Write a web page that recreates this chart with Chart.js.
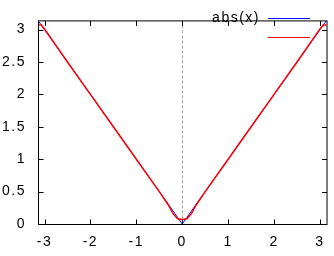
<!DOCTYPE html>
<html>
<head>
<meta charset="utf-8">
<script src="https://cdn.jsdelivr.net/npm/chart.js@4"></script>
<style>
  html, body { margin: 0; padding: 0; background: #fff; }
  canvas { display: block; }
</style>
</head>
<body>
<canvas id="myChart" width="334" height="256"></canvas>
<script>
// values
const xValues = [-3.1416, -3.07, -3.0, -2.5, -2.0, -1.5, -1.0, -0.5, -0.3, -0.2, -0.1, 0, 0.1, 0.2, 0.3, 0.5, 1.0, 1.5, 2.0, 2.5, 3.0, 3.07, 3.1416];
const absValues = [3.14, 3.07, 3.0, 2.5, 2.0, 1.5, 1.0, 0.5, 0.3, 0.2, 0.1, 0.0, 0.1, 0.2, 0.3, 0.5, 1.0, 1.5, 2.0, 2.5, 3.0, 3.07, 3.14];
const approxValues = [3.07, 3.07, 3.01, 2.5, 2.0, 1.5, 1.0, 0.5, 0.29, 0.16, 0.08, 0.07, 0.08, 0.16, 0.29, 0.5, 1.0, 1.5, 2.0, 2.5, 3.01, 3.07, 3.07];
const seriesLabels = ['abs(x)', ''];
const seriesColors = ['#0000ff', '#ff0000'];
const xTicks = [-3, -2, -1, 0, 1, 2, 3];
const yTicks = [0, 0.5, 1, 1.5, 2, 2.5, 3];

const FONT = { family: '"Liberation Sans", Arial, sans-serif', size: 14 };

const toPoints = ys => xValues.map((x, i) => ({ x: x, y: ys[i] }));

// gnuplot-ish frame, inward ticks, zero axis and key
const gnuplotFrame = {
    id: 'gnuplotFrame',
    beforeDraw(chart) {
        chart.ctx.letterSpacing = '1.5px';
    },
    beforeDatasetsDraw(chart) {
        const ctx = chart.ctx;
        const a = chart.chartArea;
        const x0 = Math.round(chart.scales.x.getPixelForValue(0)) + 0.5;
        ctx.save();
        ctx.strokeStyle = '#a0a0a0';
        ctx.lineWidth = 1;
        ctx.setLineDash([3, 2]);
        ctx.beginPath();
        ctx.moveTo(x0, a.top);
        ctx.lineTo(x0, a.bottom);
        ctx.stroke();
        ctx.restore();
    },
    afterDatasetsDraw(chart) {
        const ctx = chart.ctx;
        const a = chart.chartArea;
        const L = a.left + 0.5, R = a.right + 0.5, T = a.top + 0.5, B = a.bottom + 0.5;
        ctx.save();
        ctx.strokeStyle = '#000';
        ctx.lineWidth = 1;
        ctx.beginPath();
        xTicks.forEach(v => {
            const px = Math.round(chart.scales.x.getPixelForValue(v)) + 0.5;
            ctx.moveTo(px, B); ctx.lineTo(px, B - 5);
            ctx.moveTo(px, T); ctx.lineTo(px, T + 5);
        });
        yTicks.forEach(v => {
            const py = Math.round(chart.scales.y.getPixelForValue(v)) + 0.5;
            ctx.moveTo(L, py); ctx.lineTo(L + 5, py);
            ctx.moveTo(R, py); ctx.lineTo(R - 5, py);
        });
        ctx.stroke();
        ctx.strokeRect(L, T, R - L, B - T);

        // key
        ctx.font = FONT.size + 'px ' + FONT.family;
        ctx.textAlign = 'right';
        ctx.textBaseline = 'middle';
        ctx.fillStyle = '#000';
        seriesLabels.forEach((label, i) => {
            const y = 18.5 + i * 19;
            if (label) ctx.fillText(label, 260, y);
            ctx.strokeStyle = seriesColors[i];
            ctx.beginPath();
            ctx.moveTo(268, y);
            ctx.lineTo(310, y);
            ctx.stroke();
        });
        ctx.restore();
    }
};

new Chart(document.getElementById('myChart').getContext('2d'), {
    type: 'scatter',
    data: {
        datasets: [{
            label: seriesLabels[0],
            data: toPoints(absValues),
            showLine: true,
            borderColor: seriesColors[0],
            borderWidth: 1,
            pointRadius: 0,
            tension: 0,
            order: 1
        }, {
            label: seriesLabels[1],
            data: toPoints(approxValues),
            showLine: true,
            borderColor: seriesColors[1],
            borderWidth: 1.5,
            pointRadius: 0,
            tension: 0,
            order: 0
        }]
    },
    options: {
        responsive: false,
        animation: false,
        devicePixelRatio: 1,
        layout: { padding: { top: 6, right: 4, left: 0, bottom: 0 } },
        plugins: { legend: { display: false }, tooltip: { enabled: false } },
        scales: {
            x: {
                type: 'linear',
                min: -Math.PI,
                max: Math.PI,
                grid: { display: false, drawTicks: false },
                border: { display: false },
                afterBuildTicks: s => { s.ticks = xTicks.map(v => ({ value: v })); },
                afterFit: s => { s.height = 32; },
                ticks: { color: '#000', font: FONT, padding: 10, maxRotation: 0, autoSkip: false, callback: v => String(v) }
            },
            y: {
                type: 'linear',
                min: 0,
                max: Math.PI,
                grid: { display: false, drawTicks: false },
                border: { display: false },
                afterBuildTicks: s => { s.ticks = yTicks.map(v => ({ value: v })); },
                afterFit: s => { s.width = 38; },
                ticks: { color: '#000', font: FONT, padding: 12, autoSkip: false, callback: v => String(v) }
            }
        }
    },
    plugins: [gnuplotFrame]
});
</script>
</body>
</html>
